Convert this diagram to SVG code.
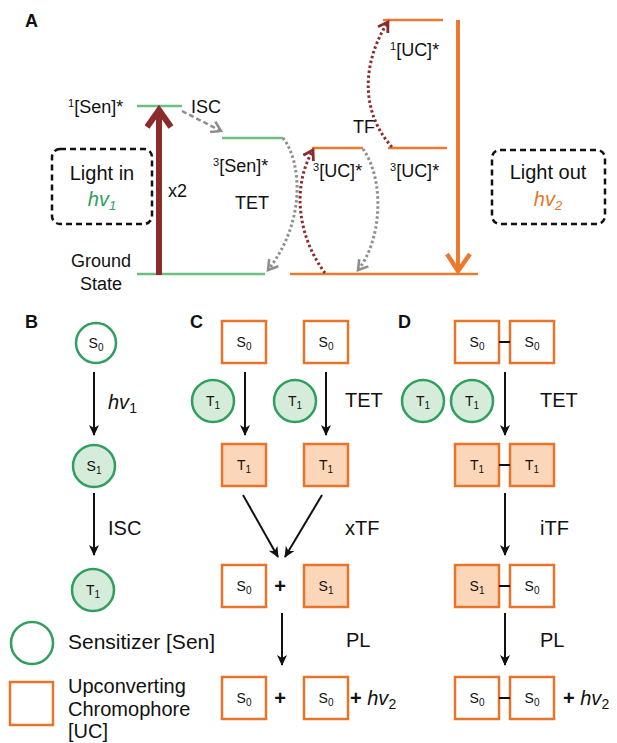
<svg xmlns="http://www.w3.org/2000/svg" width="617" height="743" viewBox="0 0 617 743">
<style>
text{font-family:"Liberation Sans",Arial,sans-serif;fill:#111}
.lab{font-size:18px}
.lbl{font-size:20px}
.pan{font-size:18px;font-weight:bold}
.nt{font-size:14px;text-anchor:middle}
.sub{font-size:10px}
.gl{stroke:#6cbf82;stroke-width:2.5;fill:none}
.ol{stroke:#ec7a2e;stroke-width:2.5;fill:none}
.circ{stroke:#2f9e5e;stroke-width:2.5;fill:#d6ecdb}
.sq{stroke:#e8732a;stroke-width:2.5;fill:#fff}
.sqf{stroke:#e8732a;stroke-width:2.5;fill:#fcd6b8}
.arr{stroke:#111;stroke-width:2;fill:none;marker-end:url(#ah)}
.box{fill:none;stroke:#111;stroke-width:2.5;stroke-dasharray:6 4}
.gdot{fill:none;stroke:#8e8e8e;stroke-width:3;stroke-dasharray:2.5 2.5;marker-end:url(#gh)}
.rdot{fill:none;stroke:#8b2b2b;stroke-width:3;stroke-dasharray:2.5 2.5;marker-end:url(#rh)}
.bond{stroke:#111;stroke-width:2}
</style>
<defs>
<marker id="ah" markerUnits="userSpaceOnUse" markerWidth="12" markerHeight="12" refX="10" refY="5" orient="auto" viewBox="0 0 12 10">
<path d="M0,0 L11,5 L0,10 L3,5 z" fill="#111"/>
</marker>
<marker id="gh" markerUnits="userSpaceOnUse" markerWidth="14" markerHeight="14" refX="9" refY="6" orient="auto" viewBox="0 0 12 12">
<path d="M1,1 L9,6 L1,11" fill="none" stroke="#8e8e8e" stroke-width="2.2"/>
</marker>
<marker id="rh" markerUnits="userSpaceOnUse" markerWidth="14" markerHeight="14" refX="9" refY="6" orient="auto" viewBox="0 0 12 12">
<path d="M1,1 L9,6 L1,11" fill="none" stroke="#8b2b2b" stroke-width="2.4"/>
</marker>
</defs>

<!-- Panel A -->
<g id="panelA">
<text class="pan" x="25" y="27">A</text>
<g id="levels">
<line class="gl" x1="137" y1="106" x2="182" y2="106"/>
<line class="gl" x1="222" y1="138" x2="283" y2="138"/>
<line class="gl" x1="137" y1="274" x2="265" y2="274"/>
<line class="ol" x1="383" y1="20" x2="443" y2="20"/>
<line class="ol" x1="312" y1="148" x2="363" y2="148"/>
<line class="ol" x1="388" y1="148" x2="447" y2="148"/>
<line class="ol" x1="290" y1="274" x2="478" y2="274"/>
</g>
<g id="light-in">
<rect class="box" x="52" y="149" width="100" height="75" rx="8"/>
<text x="102" y="180" style="font-size:20px;text-anchor:middle">Light in</text>
<text x="102" y="206" style="font-size:20px;text-anchor:middle;fill:#2f9e5e;font-style:italic">hv<tspan style="font-size:13px;fill:#2f9e5e" dy="4">1</tspan></text>
</g>
<g id="light-out">
<rect class="box" x="492" y="150" width="113" height="74" rx="8"/>
<text x="548" y="179" style="font-size:20px;text-anchor:middle">Light out</text>
<text x="548" y="206" style="font-size:20px;text-anchor:middle;fill:#e8752a;font-style:italic">hv<tspan style="font-size:13px;fill:#e8752a" dy="4">2</tspan></text>
</g>
<g id="labelsA">
<text class="lab" x="68" y="113"><tspan style="font-size:11px" dy="-6">1</tspan><tspan dy="6">[Sen]*</tspan></text>
<text class="lab" x="191" y="113">ISC</text>
<text class="lab" x="213" y="172"><tspan style="font-size:11px" dy="-6">3</tspan><tspan dy="6">[Sen]*</tspan></text>
<text class="lab" x="235" y="209">TET</text>
<text class="lab" x="168" y="197">x2</text>
<text class="lab" x="101" y="267" text-anchor="middle">Ground</text>
<text class="lab" x="101" y="290" text-anchor="middle">State</text>
<text class="lab" x="390" y="56"><tspan style="font-size:11px" dy="-6">1</tspan><tspan dy="6">[UC]*</tspan></text>
<text class="lab" x="353" y="133">TF</text>
<text class="lab" x="313" y="177"><tspan style="font-size:11px" dy="-6">3</tspan><tspan dy="6">[UC]*</tspan></text>
<text class="lab" x="390" y="177"><tspan style="font-size:11px" dy="-6">3</tspan><tspan dy="6">[UC]*</tspan></text>
</g>
<g id="connectorsA">
<line x1="159" y1="275" x2="159" y2="112" stroke="#8b2b2b" stroke-width="6"/>
<polyline points="147,127 159,110 171,127" fill="none" stroke="#8b2b2b" stroke-width="6"/>
<line x1="458" y1="20" x2="458" y2="270" stroke="#ec7a2e" stroke-width="4"/>
<polyline points="447,254 458,271 470,254" fill="none" stroke="#ec7a2e" stroke-width="4.5"/>
<line x1="182" y1="111" x2="221" y2="131" stroke="#8e8e8e" stroke-width="2.5" stroke-dasharray="5 3" marker-end="url(#gh)"/>
<path class="gdot" d="M283,138 C302,162 306,222 268,270"/>
<path class="rdot" d="M325,273 C300,240 290,190 313,150"/>
<path class="gdot" d="M363,149 C385,180 382,240 358,270"/>
<path class="rdot" d="M392,147 C360,112 362,62 388,22"/>
</g>
</g>

<!-- Panel B -->
<g id="panelB">
<text class="pan" x="25" y="328">B</text>
<g id="B-S0"><circle cx="96" cy="343" r="20" class="circ" style="fill:#fff"/><text class="nt" x="96" y="348">S<tspan class="sub" dy="3">0</tspan></text></g>
<g id="B-S1"><circle cx="94" cy="466" r="21" class="circ"/><text class="nt" x="94" y="471">S<tspan class="sub" dy="3">1</tspan></text></g>
<g id="B-T1"><circle cx="93" cy="590" r="21" class="circ"/><text class="nt" x="93" y="595">T<tspan class="sub" dy="3">1</tspan></text></g>
<text class="lbl" x="108" y="409" style="font-style:italic">hv<tspan style="font-size:14px;font-style:normal" dy="4">1</tspan></text>
<text class="lbl" x="108" y="535">ISC</text>
</g>

<!-- Legend -->
<g id="legend">
<circle cx="32" cy="643" r="21" fill="none" stroke="#2f9e5e" stroke-width="2.5"/>
<text x="68" y="649" style="font-size:21px">Sensitizer [Sen]</text>
<rect x="10" y="682" width="43" height="43" fill="none" stroke="#e8732a" stroke-width="2.5"/>
<text x="68" y="693" style="font-size:20px">Upconverting</text>
<text x="68" y="716" style="font-size:20px">Chromophore</text>
<text x="68" y="738" style="font-size:20px">[UC]</text>
</g>

<!-- Panel C -->
<g id="panelC">
<text class="pan" x="190" y="328">C</text>
<g id="C-S0a"><rect class="sq" x="222" y="321" width="44" height="42"/><text class="nt" x="244" y="347">S<tspan class="sub" dy="3">0</tspan></text></g>
<g id="C-S0b"><rect class="sq" x="304" y="321" width="44" height="42"/><text class="nt" x="326" y="347">S<tspan class="sub" dy="3">0</tspan></text></g>
<g id="C-T1sa"><circle class="circ" cx="213" cy="401" r="21"/><text class="nt" x="213" y="406">T<tspan class="sub" dy="3">1</tspan></text></g>
<g id="C-T1sb"><circle class="circ" cx="295" cy="401" r="21"/><text class="nt" x="295" y="406">T<tspan class="sub" dy="3">1</tspan></text></g>
<g id="C-T1a"><rect class="sqf" x="222" y="444" width="44" height="42"/><text class="nt" x="244" y="470">T<tspan class="sub" dy="3">1</tspan></text></g>
<g id="C-T1b"><rect class="sqf" x="304" y="444" width="44" height="42"/><text class="nt" x="326" y="470">T<tspan class="sub" dy="3">1</tspan></text></g>
<g id="C-S0c"><rect class="sq" x="222" y="565" width="44" height="42"/><text class="nt" x="244" y="591">S<tspan class="sub" dy="3">0</tspan></text></g>
<g id="C-S1"><rect class="sqf" x="304" y="565" width="44" height="42"/><text class="nt" x="326" y="591">S<tspan class="sub" dy="3">1</tspan></text></g>
<g id="C-S0d"><rect class="sq" x="222" y="677" width="44" height="42"/><text class="nt" x="244" y="703">S<tspan class="sub" dy="3">0</tspan></text></g>
<g id="C-S0e"><rect class="sq" x="304" y="677" width="44" height="42"/><text class="nt" x="326" y="703">S<tspan class="sub" dy="3">0</tspan></text></g>
<text x="280" y="593" style="font-size:20px;font-weight:bold;text-anchor:middle">+</text>
<text x="280" y="705" style="font-size:20px;font-weight:bold;text-anchor:middle">+</text>
<text x="350" y="705" style="font-size:20px"><tspan font-weight="bold">+</tspan> <tspan font-style="italic">hv</tspan><tspan style="font-size:14px" dy="4">2</tspan></text>
<text class="lbl" x="345" y="407">TET</text>
<text class="lbl" x="345" y="535">xTF</text>
<text class="lbl" x="346" y="647">PL</text>
</g>

<!-- Panel D -->
<g id="panelD">
<text class="pan" x="398" y="328">D</text>
<g id="D-row1"><rect class="sq" x="455" y="321" width="44" height="42"/><rect class="sq" x="510" y="321" width="44" height="42"/><line class="bond" x1="499" y1="342" x2="510" y2="342"/><text class="nt" x="477" y="347">S<tspan class="sub" dy="3">0</tspan></text><text class="nt" x="532" y="347">S<tspan class="sub" dy="3">0</tspan></text></g>
<g id="D-T1sa"><circle class="circ" cx="423" cy="401" r="21"/><text class="nt" x="423" y="406">T<tspan class="sub" dy="3">1</tspan></text></g>
<g id="D-T1sb"><circle class="circ" cx="472" cy="401" r="21"/><text class="nt" x="472" y="406">T<tspan class="sub" dy="3">1</tspan></text></g>
<g id="D-row2"><rect class="sqf" x="455" y="444" width="44" height="42"/><rect class="sqf" x="510" y="444" width="44" height="42"/><line class="bond" x1="499" y1="465" x2="510" y2="465"/><text class="nt" x="477" y="470">T<tspan class="sub" dy="3">1</tspan></text><text class="nt" x="532" y="470">T<tspan class="sub" dy="3">1</tspan></text></g>
<g id="D-row3"><rect class="sqf" x="455" y="565" width="44" height="42"/><rect class="sq" x="510" y="565" width="44" height="42"/><line class="bond" x1="499" y1="586" x2="510" y2="586"/><text class="nt" x="477" y="591">S<tspan class="sub" dy="3">1</tspan></text><text class="nt" x="532" y="591">S<tspan class="sub" dy="3">0</tspan></text></g>
<g id="D-row4"><rect class="sq" x="455" y="677" width="44" height="42"/><rect class="sq" x="510" y="677" width="44" height="42"/><line class="bond" x1="499" y1="698" x2="510" y2="698"/><text class="nt" x="477" y="703">S<tspan class="sub" dy="3">0</tspan></text><text class="nt" x="532" y="703">S<tspan class="sub" dy="3">0</tspan></text></g>
<text x="563" y="705" style="font-size:20px"><tspan font-weight="bold">+</tspan> <tspan font-style="italic">hv</tspan><tspan style="font-size:14px" dy="4">2</tspan></text>
<text class="lbl" x="540" y="407">TET</text>
<text class="lbl" x="540" y="535">iTF</text>
<text class="lbl" x="540" y="647">PL</text>
</g>

<!-- Connectors B/C/D -->
<g id="connectors">
<line class="arr" x1="94" y1="372" x2="94" y2="435"/>
<line class="arr" x1="94" y1="493" x2="94" y2="555"/>
<line class="arr" x1="245" y1="372" x2="245" y2="435"/>
<line class="arr" x1="326" y1="372" x2="326" y2="435"/>
<line class="arr" x1="243" y1="495" x2="278" y2="557"/>
<line class="arr" x1="322" y1="495" x2="285" y2="557"/>
<line class="arr" x1="282" y1="613" x2="282" y2="665"/>
<line class="arr" x1="505" y1="372" x2="505" y2="435"/>
<line class="arr" x1="505" y1="493" x2="505" y2="555"/>
<line class="arr" x1="505" y1="613" x2="505" y2="665"/>
</g>
</svg>
